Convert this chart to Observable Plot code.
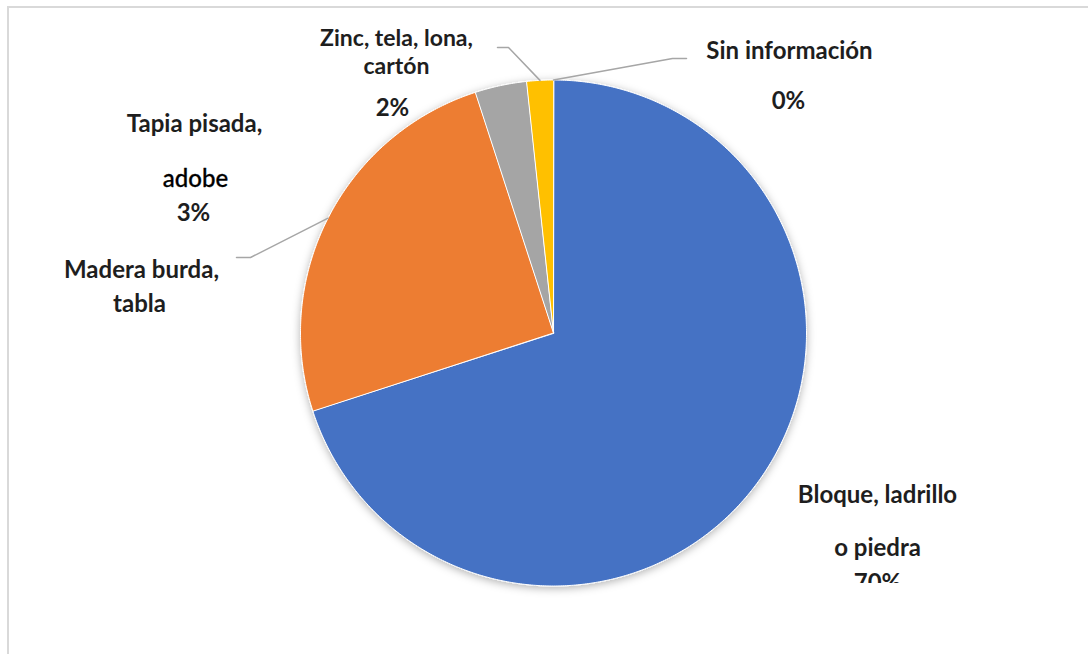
<!DOCTYPE html>
<html><head><meta charset="utf-8">
<script src="https://cdn.jsdelivr.net/npm/d3@7"></script>
<script src="https://cdn.jsdelivr.net/npm/@observablehq/plot@0.6"></script>
<style>
html,body{margin:0;padding:0;background:#fff;}
#wrap{position:relative;width:1088px;height:654px;overflow:hidden;}
#frame{position:absolute;left:7px;top:6px;width:1200px;height:800px;border-top:2px solid #d9d9d9;border-left:2px solid #d9d9d9;}
#chart{position:absolute;left:0;top:0;}
</style></head><body>
<div id="wrap"><div id="frame"></div><div id="chart"></div></div>
<script>
// ---- data ----
const categories = ["Bloque, ladrillo o piedra", "Madera burda, tabla", "Tapia pisada, adobe", "Zinc, tela, lona, cartón", "Sin información"];
const values = [70.0, 25.0, 3.3, 1.7, 0.0];
const colors = ["#4472C4", "#ED7D31", "#A5A5A5", "#FFC000", "#5B9BD5"];
const nameLines = [["Bloque, ladrillo", "o piedra"], ["Madera burda,", "tabla"], ["Tapia pisada,", "adobe"], ["Zinc, tela, lona,", "cartón"], ["Sin información"]];
const showPercent = [true, false, true, true, true];

// ---- layout (pixels) ----
const W = 1088, H = 654, CX = 553, CY = 332.5, R = 253, CLIPY = 583;
const labelLayout = [
  {lines: [[877, 502], [877, 555]], pct: [877, 590], light: []},
  {lines: [[141, 277], [139, 311]], pct: null, light: []},
  {lines: [[194, 131], [195, 186]], pct: [193, 220], light: [1]},
  {block: [396, 73], pct: [392, 115], light: []},
  {lines: [[789, 58]], pct: [788, 108], light: []}
];
const leaderLayout = [null, [[236, 257], [250, 257]], null, [[497, 47], [508, 47]], [[686, 58], [672, 58]]];

const px = x => (x - CX) / R;
const py = y => (CY - y) / R;

const data = categories.map((c, i) => ({cat: c, value: values[i]}));
const arcs = d3.pie().sort(null).value(d => d.value).startAngle(0).endAngle(2 * Math.PI)(data);

const polys = [];
arcs.forEach(a => {
  const span = a.endAngle - a.startAngle;
  if (span <= 0) return;
  const cat = a.data.cat;
  polys.push({cat, x: 0, y: 0});
  const n = Math.max(2, Math.ceil(span / (Math.PI / 360)));
  for (let i = 0; i <= n; i++) {
    const t = a.startAngle + span * i / n;
    polys.push({cat, x: Math.sin(t), y: Math.cos(t)});
  }
});

const leaders = [];
arcs.forEach((a, i) => {
  const L = leaderLayout[i];
  if (!L) return;
  const mid = (a.startAngle + a.endAngle) / 2;
  leaders.push({k: i, x: px(L[0][0]), y: py(L[0][1])});
  leaders.push({k: i, x: px(L[1][0]), y: py(L[1][1])});
  leaders.push({k: i, x: Math.sin(mid), y: Math.cos(mid)});
});

const texts = [];
categories.forEach((c, i) => {
  const lay = labelLayout[i];
  if (lay.block) {
    texts.push({t: nameLines[i].join("\n"), x: px(lay.block[0]), y: py(lay.block[1]), bold: true, multi: true});
  } else {
    nameLines[i].forEach((s, j) => {
      texts.push({t: s, x: px(lay.lines[j][0]), y: py(lay.lines[j][1]), bold: !lay.light.includes(j), multi: false});
    });
  }
  if (showPercent[i] && lay.pct) {
    texts.push({t: Math.round(values[i]) + "%", x: px(lay.pct[0]), y: py(lay.pct[1]), bold: true, multi: false});
  }
});

const textOpts = {x: "x", y: "y", text: "t", fontSize: 24, fontFamily: "Lato", textAnchor: "middle", lineAnchor: "bottom", clip: true};

const chart = Plot.plot({
  width: W, height: H,
  marginTop: 0, marginLeft: 0, marginRight: 0, marginBottom: H - CLIPY,
  x: {domain: [px(0), px(W)], axis: null},
  y: {domain: [py(CLIPY), py(0)], axis: null},
  color: {type: "ordinal", domain: categories, range: colors},
  style: {background: "transparent", overflow: "visible"},
  marks: [
    Plot.line(polys, {x: "x", y: "y", z: "cat", fill: "cat", stroke: "white", strokeWidth: 1, curve: "linear-closed"}),
    Plot.line(leaders, {x: "x", y: "y", z: "k", stroke: "#a6a6a6", strokeWidth: 1.5}),
    Plot.text(texts.filter(d => d.bold && !d.multi), {...textOpts, fontWeight: "bold", fill: "#1e1e1e"}),
    Plot.text(texts.filter(d => d.bold && d.multi), {...textOpts, fontSize: 23, fontWeight: "bold", fill: "#1e1e1e", lineHeight: 28 / 23}),
    Plot.text(texts.filter(d => !d.bold), {...textOpts, fontWeight: 500, fill: "#000", stroke: "#000", strokeWidth: 0.3})
  ]
});
document.getElementById("chart").appendChild(chart);

// soft shadow under pie
const svg = d3.select(chart);
const defs = svg.insert("defs", ":first-child");
const f = defs.append("filter").attr("id", "pieShadow").attr("x", "-20%").attr("y", "-20%").attr("width", "140%").attr("height", "140%");
f.append("feDropShadow").attr("dx", 0).attr("dy", 2).attr("stdDeviation", 4).attr("flood-color", "#000").attr("flood-opacity", 0.3);
svg.select('g[aria-label="line"]').attr("filter", "url(#pieShadow)");
</script>
</body></html>
